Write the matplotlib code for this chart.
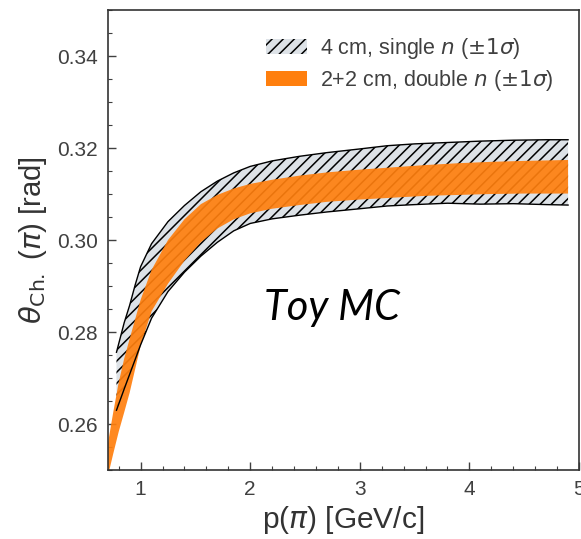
import matplotlib
matplotlib.use("Agg")
import matplotlib.pyplot as plt
from matplotlib.patches import Patch
from matplotlib.ticker import MultipleLocator

plt.rcParams['font.family'] = ['Liberation Sans', 'DejaVu Sans']
plt.rcParams['mathtext.fontset'] = 'dejavusans'
plt.rcParams['hatch.linewidth'] = 1.1

# 4 cm radiator, single refractive index (+-1 sigma band)
p_single = [0.78, 0.85, 0.90, 0.95, 1.00, 1.10, 1.25, 1.40, 1.55, 1.70, 1.85, 2.00,
            2.20, 2.45, 2.70, 3.00, 3.25, 3.50, 3.80, 4.10, 4.40, 4.70, 4.90]
single_hi = [0.2756, 0.2820, 0.2858, 0.2902, 0.2942, 0.2992, 0.3040, 0.3075, 0.3105,
             0.3128, 0.3146, 0.3160, 0.3172, 0.3182, 0.3190, 0.3198, 0.3205, 0.3209,
             0.3212, 0.3215, 0.3217, 0.3218, 0.3218]
single_lo = [0.2630, 0.2676, 0.2708, 0.2740, 0.2772, 0.2830, 0.2888, 0.2930, 0.2965,
             0.2995, 0.3020, 0.3036, 0.3046, 0.3054, 0.3061, 0.3068, 0.3074, 0.3077,
             0.3080, 0.3078, 0.3079, 0.3077, 0.3076]

# 2+2 cm radiator, double refractive index (+-1 sigma band)
p_double = [0.70, 0.75, 0.80, 0.85, 0.90, 1.00, 1.10, 1.25, 1.40, 1.55, 1.70, 1.85,
            2.00, 2.20, 2.45, 2.70, 3.00, 3.30, 3.60, 3.90, 4.20, 4.50, 4.90]
double_hi = [0.2555, 0.2625, 0.2690, 0.2742, 0.2785, 0.2870, 0.2935, 0.3000, 0.3045,
             0.3078, 0.3098, 0.3112, 0.3122, 0.3131, 0.3140, 0.3147, 0.3153, 0.3158,
             0.3163, 0.3167, 0.3170, 0.3172, 0.3174]
double_lo = [0.2485, 0.2535, 0.2583, 0.2625, 0.2668, 0.2770, 0.2845, 0.2905, 0.2955,
             0.2995, 0.3025, 0.3045, 0.3058, 0.3068, 0.3076, 0.3083, 0.3088, 0.3092,
             0.3096, 0.3098, 0.3100, 0.3101, 0.3101]

fig = plt.figure(figsize=(5.81, 5.39), dpi=100)
ax = fig.add_axes([0.1854, 0.128, 0.8112, 0.8534])

# hatched band first, orange band over it
ax.fill_between(p_single, single_lo, single_hi, facecolor='#dde2e7', edgecolor='black',
                hatch='///', linewidth=0, zorder=1)
ax.plot(p_single, single_hi, c='black', linewidth=1.0, zorder=3)
ax.plot(p_single, single_lo, c='black', linewidth=1.0, zorder=3)
ax.fill_between(p_double, double_lo, double_hi, facecolor='#ff7f0e', alpha=0.92,
                linewidth=0, zorder=2)

ax.set_xlim(0.7, 5)
ax.set_ylim(0.25, 0.35)
ax.xaxis.set_major_locator(MultipleLocator(1))
ax.xaxis.set_minor_locator(MultipleLocator(0.2))
ax.yaxis.set_major_locator(MultipleLocator(0.02))
ax.yaxis.set_minor_locator(MultipleLocator(0.005))
ax.tick_params(which='both', direction='in', colors='0.25', labelsize=15, pad=7)
ax.tick_params(which='major', length=6, width=1)
ax.tick_params(which='minor', length=3, width=0.8)
for s in ax.spines.values():
    s.set_color('0.2')
    s.set_linewidth(1.2)

ax.set_xlabel(r'p($\pi$) [GeV/c]', fontsize=21.5, color='0.2', labelpad=4)
ax.set_ylabel(r'$\theta_{\mathrm{Ch.}}$ ($\pi$) [rad]', fontsize=21, color='0.2', labelpad=6)

ax.text(2.75, 0.2852, 'Toy MC', fontsize=30, fontfamily='Lato', fontstyle='italic',
        ha='center', va='center')

handles = [Patch(facecolor='#dde2e7', edgecolor='black', hatch='///', linewidth=0),
           Patch(facecolor='#ff7f0e', linewidth=0)]
ax.legend(handles, [r'4 cm, single $n$ ($\pm1\sigma$)', r'2+2 cm, double $n$ ($\pm1\sigma$)'],
          loc='upper right', frameon=False, fontsize=15.5, labelcolor='0.25',
          handlelength=1.9, handletextpad=0.6, labelspacing=0.35, borderaxespad=0.8)

fig.savefig('out.png', dpi=100)
